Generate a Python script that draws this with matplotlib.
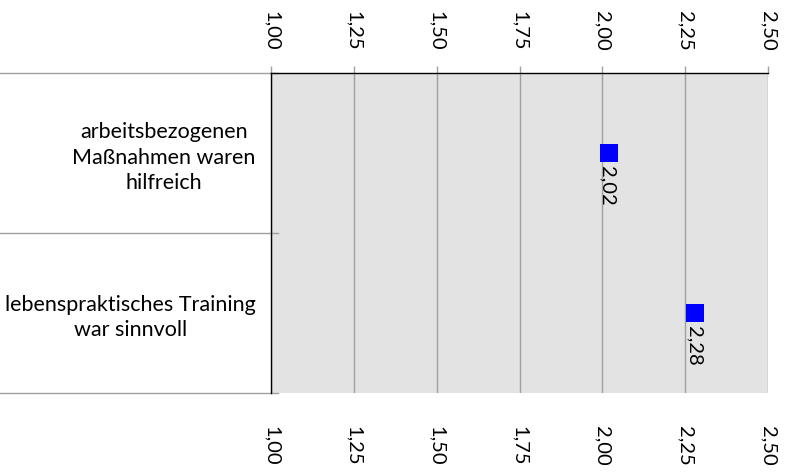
import matplotlib
matplotlib.use("Agg")
import matplotlib.pyplot as plt
import numpy as np

categories = ["arbeitsbezogenen\nMaßnahmen waren\nhilfreich",
              "lebenspraktisches Training\nwar sinnvoll"]
values = [2.02, 2.28]
value_labels = ["2,02", "2,28"]
tick_values = [1.00, 1.25, 1.50, 1.75, 2.00, 2.25, 2.50]
tick_labels = ["1,00", "1,25", "1,50", "1,75", "2,00", "2,25", "2,50"]

plt.rcParams['font.family'] = ['Lato', 'DejaVu Sans']

W, H = 785, 473
fig = plt.figure(figsize=(W / 100, H / 100), dpi=100)
L, R, T, B = 271, 768, 73, 393
ax = fig.add_axes([L / W, 1 - B / H, (R - L) / W, (B - T) / H])
ax.set_facecolor("#e3e3e3")

ax.set_xlim(1.0, 2.5)
ypos = np.arange(len(categories))
ax.set_ylim(len(categories) - 0.5, -0.5)

for xv in tick_values:
    ax.axvline(xv, color="#a0a0a0", lw=1, zorder=1)

ax.plot(values, ypos, linestyle="none", marker="s", markersize=13,
        color="#0000ff", markeredgewidth=0, zorder=3)
for v, y, lab in zip(values, ypos, value_labels):
    ax.annotate(lab, (v, y), xytext=(-1, -9.5), textcoords="offset points",
                rotation=-90, ha="center", va="top", fontsize=14.5, zorder=4)

# spines
for s in ["right", "bottom"]:
    ax.spines[s].set_visible(False)
ax.spines["top"].set_color("black")
ax.spines["left"].set_color("black")
ax.spines["top"].set_linewidth(1)
ax.spines["left"].set_linewidth(1)

# top ticks
ax.set_xticks(tick_values)
ax.set_xticklabels(tick_labels, rotation=-90, fontsize=14.5)
ax.tick_params(axis="x", bottom=False, labelbottom=False, top=True, labeltop=True,
               length=5, width=1, color="#a0a0a0", pad=11)
for lbl in ax.get_xticklabels():
    lbl.set_va("bottom")

# bottom labels
sec = ax.secondary_xaxis("bottom")
sec.set_xticks(tick_values)
sec.set_xticklabels(tick_labels, rotation=-90, fontsize=14.5)
sec.tick_params(length=0, pad=23.5)
sec.spines["bottom"].set_visible(False)

# category labels
ax.set_yticks(ypos)
ax.set_yticklabels(categories, fontsize=15.5, multialignment="center", linespacing=1.33)
ax.tick_params(axis="y", length=0, pad=11)

# separators
for yb in np.arange(len(categories) + 1) - 0.5:
    ax.plot([-L / (R - L), 7 / (R - L)], [yb, yb], transform=ax.get_yaxis_transform(),
            color="#a0a0a0", lw=1, clip_on=False, zorder=0)

fig.savefig("out.png", dpi=100)
